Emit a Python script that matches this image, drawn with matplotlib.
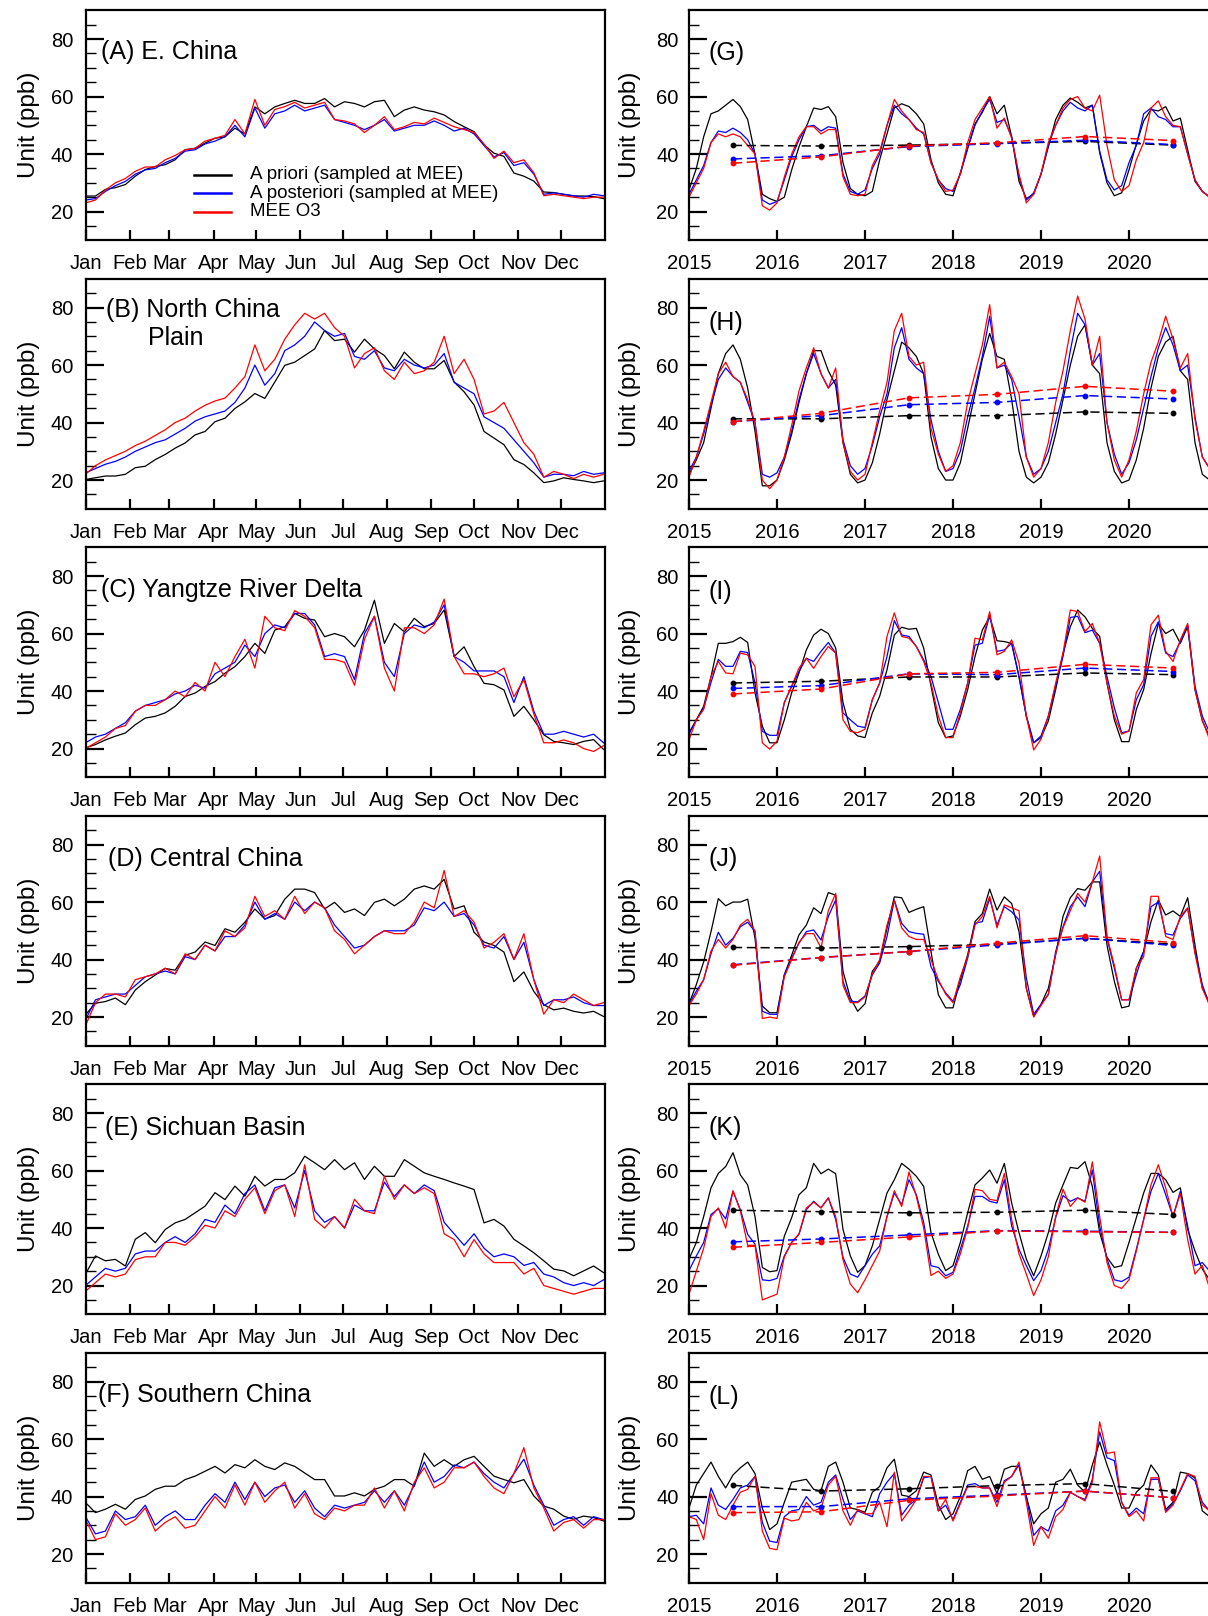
import matplotlib
matplotlib.use('Agg')
import matplotlib.pyplot as plt
from matplotlib.ticker import FixedLocator
from matplotlib.lines import Line2D

plt.rcParams['font.family'] = ['Liberation Sans', 'DejaVu Sans']

# ---------------- data ----------------
# left column: daily curves, sampled every 7 days
week_days = list(range(0, 365, 7))
month_starts = [0, 31, 59, 90, 120, 151, 181, 212, 243, 273, 304, 334]
month_labels = ['Jan', 'Feb', 'Mar', 'Apr', 'May', 'Jun',
                'Jul', 'Aug', 'Sep', 'Oct', 'Nov', 'Dec']

prior_A = [25.4, 25.4, 27.7, 28.3, 29.4, 32.3, 34.6, 35.7, 36.3, 38, 41.5, 42, 43.8, 45.5, 46, 49, 47, 56.4,
           54, 56.4, 57.6, 58.7, 57.6, 57.6, 59.3, 56.4, 58.2, 57.6, 56.4, 58.2, 58.7, 53, 55.3, 56.4, 55.3,
           54.7, 53.6, 51.3, 49.5, 47.8, 43.2, 40.3, 39.2, 33.4, 32.3, 30.6, 26.8, 26.6, 26, 25.4, 25.4, 25.2, 24.5]
post_A = [24, 24.5, 27, 29, 30.5, 33, 34.5, 35, 37, 38.5, 41, 41.5, 43.5, 44.5, 46, 50, 46, 56, 49, 54, 55,
          57, 55, 56, 57, 52, 51, 50, 48.5, 50, 52, 48, 49, 50, 50, 51.5, 50, 48, 49, 47, 43, 39, 40.5, 36, 37,
          33, 26, 26.5, 26, 25.5, 25, 26, 25.5]
mee_A = [23, 24, 27.5, 30, 31.5, 34, 35.5, 35.5, 38, 39.5, 41.5, 42, 44.5, 45.5, 46.5, 52, 47, 59, 50, 55.5,
         56.5, 58, 56, 57, 58, 52, 51.5, 50.5, 47.5, 50, 53, 48.5, 49.5, 51, 50.5, 52.5, 51, 49.5, 48.5, 47.5,
         43.5, 38.5, 41, 37, 38, 33.5, 25.5, 26, 25.5, 25, 24.5, 25, 25]

prior_B = [20.2, 20.8, 21.4, 21.4, 22, 24.3, 24.8, 27.1, 28.9, 31.1, 32.9, 35.7, 36.9, 40.3, 41.5, 44.9, 47.2,
           50.1, 48.4, 54.1, 59.9, 61, 63.3, 65.6, 72, 68.5, 69, 64.5, 69, 65.6, 63.3, 58.7, 64.5, 61, 58.7,
           58.7, 61.6, 54.1, 50.7, 46.1, 36.9, 34.6, 32.3, 27.1, 25.4, 22.5, 19.1, 19.7, 20.8, 20.2, 19.7, 19.1, 19.7]
post_B = [22.5, 24, 25.5, 26.5, 28, 30, 31.5, 33, 34, 36, 38, 40.5, 42, 43, 44, 47, 52, 60, 53, 57, 65, 67,
          70, 75, 72, 70, 71, 63, 62, 65, 59, 58, 62, 60, 59, 60, 64, 54, 52, 50, 42, 40, 38, 34, 30, 26, 21,
          22, 22, 21.5, 23, 22, 22.5]
mee_B = [22, 25, 27, 28.5, 30, 32, 33.5, 35.5, 37.5, 40, 41.5, 44, 46, 47.5, 48.5, 52, 56, 67, 58, 62, 69, 74,
         78, 76, 78, 73, 70, 59, 64, 66, 58, 55, 61, 57, 58, 61, 70, 57, 62, 55, 43, 44, 47, 40, 33, 29, 21, 23,
         22, 20.5, 22, 21, 22]

prior_C = [20.2, 21.4, 23, 24.3, 25.4, 28.3, 30.6, 31.2, 32.4, 34.7, 38.1, 39.3, 41.6, 43.3, 46.2, 48.5, 52,
           56.6, 53.1, 61.2, 62.4, 67, 65.3, 64.7, 58.9, 60, 58.9, 55.4, 61.2, 71.6, 56.6, 63.5, 60.6, 65.3,
           62.4, 63.5, 68.2, 52, 55.4, 48.5, 42.7, 42.2, 40.4, 31.2, 34.7, 30, 24.8, 22.5, 22, 21.4, 22.5, 23.1, 19.7]
post_C = [22, 24, 25, 27, 29, 33, 35, 36, 37, 39, 40, 42, 41, 46, 48, 50, 56, 52, 60, 63, 62, 67, 67, 63, 52,
          53, 52, 44, 60, 66, 50, 45, 60, 63, 62, 64, 70, 52, 50, 47, 47, 47, 45, 36, 45, 33, 25, 25, 26, 25,
          24, 25, 22]
mee_C = [20, 22, 24, 27, 28, 33, 35, 35, 37, 40, 38, 43, 40, 50, 45, 52, 58, 48, 66, 62, 61, 68, 66, 62, 51,
         51, 50, 42, 58, 66, 48, 40, 62, 62, 60, 63, 72, 52, 46, 46, 45, 46, 48, 38, 44, 32, 22, 22, 23, 22, 20,
         19, 21]

prior_D = [20.8, 24.8, 25.4, 26.6, 24.3, 29.4, 32.3, 34.6, 36.9, 36.3, 41.5, 42.6, 46.1, 44.9, 50.7, 49.5,
           53, 57.6, 54.1, 55.3, 61, 64.5, 64.5, 63.3, 57.6, 59.9, 56.4, 57.6, 55.3, 59.9, 61, 58.7, 61, 64.5,
           65.6, 64.5, 67.9, 57.6, 58.7, 49.5, 46.1, 44.9, 42.6, 32.3, 35.7, 28.9, 24.3, 22.5, 23.1, 22, 21.4, 22, 20.2]
post_D = [19, 26, 27, 28, 28, 31, 34, 35, 36, 35, 41, 40, 45, 43, 48, 48, 52, 60, 54, 56, 54, 60, 57, 60, 58,
          52, 48, 44, 45, 48, 50, 50, 50, 52, 58, 57, 60, 55, 56, 52, 45, 44, 48, 40, 46, 33, 24, 26, 26, 27,
          25, 24, 24]
mee_D = [17, 25, 28, 28, 27, 33, 34, 35, 37, 35, 42, 40, 45, 43, 50, 48, 51, 62, 55, 57, 54, 62, 56, 60, 58,
         50, 47, 42, 45, 48, 50, 49, 49, 53, 60, 58, 71, 55, 57, 53, 44, 46, 49, 40, 49, 33, 21, 26, 25, 28, 26,
         24, 25]

prior_E = [24, 30.3, 28.6, 29.1, 26.8, 36.1, 38.4, 34.9, 39.5, 41.8, 43, 45.3, 47.6, 52.3, 49.9, 54.6, 51.1,
           58, 54.6, 56.9, 56.9, 59.2, 65, 62.7, 60.3, 63.8, 60.3, 62.7, 56.9, 61.5, 58, 58, 63.8, 61.5, 59.2,
           58, 56.9, 55.7, 54.6, 53.4, 41.8, 43, 40.7, 36.1, 33.8, 31.4, 28.6, 25.7, 25.1, 23.4, 25.1, 26.8, 24.5]
post_E = [20, 23, 26, 25, 26, 31, 32, 32, 35, 37, 35, 38, 43, 42, 48, 45, 52, 55, 46, 54, 55, 47, 60, 46, 42,
          44, 40, 48, 46, 46, 56, 51, 55, 52, 55, 53, 42, 38, 34, 38, 33, 30, 31, 30, 27, 28, 24, 23, 21, 20,
          21, 20, 22]
mee_E = [18, 21, 24, 23, 24, 29, 30, 30, 35, 35, 34, 37, 41, 40, 46, 44, 50, 54, 45, 53, 55, 44, 62, 43, 40,
         44, 40, 50, 46, 45, 58, 50, 55, 52, 54, 52, 38, 36, 30, 36, 31, 28, 28, 28, 24, 26, 20, 19, 18, 17, 18,
         19, 19]

prior_F = [37.9, 34.4, 35.6, 37.3, 35.6, 39, 40.2, 42.5, 43.6, 43.6, 45.9, 47.1, 48.8, 50.5, 48.2, 51.1, 50,
           52.8, 50.5, 49.4, 51.7, 50.5, 48.2, 45.9, 45.9, 40.2, 40.2, 41.3, 40.2, 42.5, 43.6, 45.9, 45.9, 43.6,
           55.1, 50.5, 52.8, 50.5, 52.8, 54, 50.5, 47.1, 45.9, 44.8, 45.9, 40.2, 36.7, 35.6, 33.2, 32.1, 33.2, 32.7, 31.5]
post_F = [33, 27, 28, 35, 32, 33, 37, 30, 33, 35, 32, 32, 37, 41, 38, 45, 39, 45, 40, 43, 44, 38, 42, 36, 33,
          37, 36, 37, 38, 42, 38, 42, 37, 44, 52, 45, 47, 51, 50, 52, 48, 45, 43, 48, 53, 44, 37, 30, 32, 33,
          30, 33, 32]
mee_F = [32, 25, 26, 34, 30, 32, 36, 28, 31, 33, 29, 30, 35, 40, 36, 44, 37, 45, 38, 42, 45, 36, 41, 34, 32,
         36, 35, 37, 37, 43, 36, 42, 35, 45, 50, 43, 45, 50, 50, 52, 47, 43, 41, 48, 57, 43, 36, 28, 31, 32, 29,
         32, 32]

# right column: monthly means 2015-2020 and annual means
years = [2015, 2016, 2017, 2018, 2019, 2020]
year_mid = [2015.5, 2016.5, 2017.5, 2018.5, 2019.5, 2020.5]
month_pos = [2015 + m / 12 for m in range(72)]

prior_G = [27.5, 35, 46, 54, 55, 57, 59, 56.5, 52, 40, 26, 24.5,
           23.5, 25, 34.5, 42.5, 49.5, 56, 55.5, 56.5, 53, 37, 28, 26,
           25.5, 27, 38, 47, 56, 57.5, 56.5, 54, 50.5, 38, 30, 26,
           25.5, 33.5, 42, 50.5, 54.5, 60, 54, 57, 46, 30.5, 24.5, 26,
           33, 42.5, 52, 57, 59.5, 58, 56, 57, 40.5, 30, 25.5, 26.5,
           34.5, 43.5, 51.5, 55.5, 55, 56.5, 51.5, 52.5, 41.5, 30.5, 27, 25]
post_G = [26, 31, 36, 44, 48, 47.5, 49, 47.5, 45, 40, 24, 22.5,
          23.5, 31, 39, 45, 49.5, 50, 48, 49.5, 49, 33, 27, 26,
          27.5, 35, 40, 50, 57, 54, 52, 49, 47, 37, 31, 28,
          27, 33, 42, 50, 55, 59, 51, 52, 46, 32, 24, 26.5,
          33, 43, 50, 55, 58, 56, 55, 57, 41, 31, 27.5, 29,
          37, 43, 54, 56, 53, 52, 49.5, 49.5, 40, 31, 27, 25]
mee_G = [25, 30, 35, 44, 47, 46, 47, 46, 43, 40, 22, 20.5,
         23, 32, 40, 46, 49.5, 49.5, 47, 48.5, 48.5, 32, 26, 25.5,
         26, 36, 41, 50, 59, 55, 52, 48.5, 47.5, 37, 31, 27,
         27.5, 33, 44, 52, 56, 60, 49, 52.5, 45.5, 33, 23, 26,
         33, 44, 50, 56, 59, 60, 56, 55, 60.5, 43, 31, 27,
         29, 38, 44, 56, 58.5, 53, 50, 49.5, 40, 31, 27, 25]

prior_H = [22, 27, 33, 45, 57, 64, 67, 62, 52, 37, 18, 18,
           20, 27, 36, 47, 57, 65, 65, 58, 53, 33, 22, 19,
           20, 26, 36, 48, 58, 68, 66, 63, 57, 35, 24, 20,
           20, 26, 38, 50, 62, 71, 63, 62, 48, 30, 21, 19,
           21, 26, 36, 48, 60, 70, 74, 60, 57, 33, 23, 19,
           20, 27, 38, 52, 63, 68, 70, 58, 55, 33, 22, 20]
post_H = [23, 28, 36, 46, 55, 59, 56, 54, 47, 40, 22, 21,
          22.5, 28, 37, 48, 57, 64, 57, 52, 55, 34, 25, 22,
          24, 32, 42, 50, 66, 73, 62, 59, 57, 41, 30, 23,
          24, 30, 42, 52, 63, 77, 59, 60, 55, 42, 28, 22,
          24, 30, 40, 50, 65, 78, 74, 60, 64, 40, 29, 22,
          26, 34, 45, 56, 66, 73, 67, 58, 60, 42, 28, 24]
mee_H = [21, 28, 37, 47, 57, 61, 56, 54, 48, 40, 20, 17,
         20, 28, 39, 51, 59, 66, 57, 52, 59, 33, 23, 20,
         22, 33, 44, 54, 72, 78, 63, 60, 61, 38, 29, 23,
         25, 33, 47, 57, 67, 81, 59, 61, 56, 50, 28, 21,
         24, 33, 47, 58, 72, 84, 76, 60, 70, 40, 27, 21,
         27, 37, 50, 61, 68, 77, 69, 59, 64, 41, 28, 24]

prior_I = [25.5, 30, 34.7, 45, 56.6, 56.6, 57.2, 58.7, 56.9, 39.4, 27.8, 22,
           22, 30, 39.4, 46.3, 54.3, 59.5, 61.5, 60, 55, 36, 26.7, 24.4,
           23.8, 32.4, 38.2, 47.4, 59.5, 62.2, 61.5, 61.8, 55, 41.7, 29, 23.8,
           24.4, 31.3, 40.5, 52, 61.2, 65.8, 57.5, 57.2, 56.6, 45, 31.3, 22,
           23.8, 29.6, 40.5, 53, 62.4, 68.2, 65.8, 61.8, 59, 42.8, 30, 22.4,
           22.4, 33.6, 40.5, 53, 63.5, 60, 61.5, 56.6, 62.4, 40.5, 29.6, 24]
post_I = [25, 30, 34, 43, 51, 48.6, 48.6, 53.8, 53.4, 42.8, 26, 24.6,
          24.6, 36, 41.7, 46.8, 51.4, 50.3, 53.8, 56.9, 53.2, 32.4, 30, 27.8,
          27.3, 37, 42.8, 52, 64.5, 59.5, 59, 55.5, 50.9, 45, 36, 26.7,
          26.7, 33.6, 42.8, 56, 56.6, 66.4, 53.8, 54.3, 56.6, 45, 31.3, 22,
          24.4, 31.3, 41.7, 52, 65.6, 66, 60.3, 61.2, 56.6, 45, 34.2, 25.5,
          26.1, 37, 42.2, 59, 64.1, 53.2, 52, 57.2, 63, 41.7, 31.3, 25.5]
mee_I = [23, 30, 33.6, 45, 50.3, 46.3, 46, 53.2, 52.6, 48.6, 22, 19.8,
         22.6, 36, 41.7, 48, 51.4, 47.9, 52, 55.5, 53.2, 30, 26, 25.5,
         26.7, 37, 42.8, 59, 67.2, 59, 58.4, 55.5, 50.3, 42.8, 31.3, 23.8,
         23.8, 32.4, 42.8, 58.4, 57.8, 67.6, 52.6, 53.8, 57.8, 49.7, 31.3, 19.5,
         23.2, 31.3, 42.8, 53.2, 68.2, 67.6, 60.7, 63.5, 56.6, 42.8, 31.3, 25,
         26.1, 39.4, 44, 63, 66.4, 53.8, 50.3, 57.8, 63.5, 40.5, 30, 23]

prior_J = [24.6, 31.3, 39.2, 49.7, 61.2, 58.7, 60, 60, 61, 47.4, 23.8, 21.5,
           21.5, 34.7, 41.5, 48.6, 52, 58, 56, 63.3, 62.4, 35.9, 26.7, 22,
           24.6, 35.9, 39.4, 50.9, 61.8, 61.5, 56.4, 57.5, 58.4, 42.8, 27.8, 23.2,
           23.2, 33, 41.7, 53.2, 56, 64.5, 57.2, 61.8, 59.5, 49.7, 30, 20.3,
           24.4, 30, 41.7, 55, 61.5, 64.7, 64.1, 67, 67, 45, 32.4, 23.2,
           23.8, 37, 42.8, 53.2, 60.7, 55.5, 56.9, 55, 61.5, 45, 30, 25]
post_J = [24.5, 29, 33, 42, 49.5, 45, 47.4, 51.4, 53, 49.7, 22, 21,
          20.9, 34.7, 40.5, 45.7, 49.7, 50.3, 46.8, 55, 60.7, 32.4, 25.5, 25.3,
          27.3, 34.7, 38.8, 48, 60.7, 52.6, 49.7, 49.1, 48.8, 37.5, 32.4, 28.4,
          25.5, 31.3, 40.5, 52.6, 53.2, 61.2, 52, 58.4, 56.6, 53.8, 33.6, 21,
          24.4, 27.8, 42.8, 51.4, 58.4, 61.8, 58.4, 67, 70.7, 47.4, 37, 26,
          26, 34.7, 42.8, 58.4, 60, 49, 48.5, 54.3, 57.8, 42.8, 31.3, 24]
mee_J = [24, 28, 33, 43, 47, 44, 47, 52, 54, 50, 19.5, 20,
         19.5, 34, 40, 46, 49, 49, 44, 57, 63, 31, 25, 25,
         27, 35, 40, 52, 60.5, 51, 48, 47, 47, 40, 33, 28,
         25, 34, 41, 52, 55, 62, 51, 59, 58, 57, 30, 20,
         24, 28, 42, 51, 57, 63, 60, 67, 76, 48, 38, 26,
         26, 37, 41, 62, 62, 48, 47, 55, 58, 42, 30, 24]

prior_K = [29.2, 35, 44, 54, 59, 61.4, 66.2, 58.5, 55, 44, 26.3, 24.8,
           25.2, 37.2, 43.6, 51.6, 54, 62.5, 58.9, 60.5, 58.9, 39.5, 30.3, 24.6,
           26.9, 33.8, 43, 52.2, 56.8, 62.5, 60.5, 58, 54.5, 38.4, 30.9, 25.2,
           26.9, 35, 45.3, 55, 57.4, 60.2, 55.6, 62.5, 48.7, 38.4, 29.2, 23.4,
           30.3, 38.4, 48.7, 55, 61.1, 60.7, 63.1, 54.5, 38.4, 29.8, 26.3, 26.9,
           35, 43.6, 52.2, 59, 59, 56.8, 52.4, 54, 39.5, 32, 25.7, 22]
post_K = [25.2, 30.3, 35, 44.7, 46.7, 43.2, 52.8, 46.4, 37.8, 34.4, 22, 21.7,
          22.5, 30.3, 35, 37.8, 46.4, 49.3, 47, 50.5, 43, 29.8, 24, 22.9,
          26.9, 30.9, 33.8, 44, 52.2, 48.2, 56.8, 51.6, 42, 26.9, 26.3, 23.4,
          24.6, 32.6, 40.7, 51, 51, 49.3, 48.7, 56.8, 40.7, 32.6, 26.9, 21.7,
          25.2, 32.6, 43.6, 51.3, 49.3, 50.5, 49.3, 60.2, 40.7, 29.2, 22, 21.4,
          22.9, 32.6, 43, 52.8, 59, 51.6, 44, 52.8, 40.7, 26.9, 28, 25]
mee_K = [17, 25, 33, 44, 47, 40, 53, 46, 34, 34, 15, 16,
         17, 30, 35, 38, 47, 49, 47, 50.5, 44, 29, 20.5, 17.5,
         22, 27, 32, 44, 53, 47.5, 59.5, 51, 40, 23.5, 25, 22.5,
         24, 31, 40, 53.5, 53, 50, 49.5, 59, 43, 31, 24, 16.5,
         22, 30, 44, 53.5, 47.5, 50.5, 49, 63, 44, 28, 20, 19,
         22, 32, 43, 55, 62, 54, 44, 52, 36, 24, 27, 19]

prior_L = [36, 44, 48, 52, 47, 43, 47.5, 50, 52, 48, 36, 28.5,
           30.5, 38, 45, 45.5, 46, 42.5, 42, 50.5, 52, 45, 36, 35.5,
           34.5, 41.5, 43.5, 50, 53, 40.5, 40, 42, 48.5, 47.5, 37, 32,
           34, 40, 49, 50.5, 46, 47, 41, 49.5, 50.5, 50.5, 40, 30.5,
           34, 36, 45, 46, 49.5, 44, 41.5, 51, 59, 51, 44, 36,
           36, 41.5, 44, 51, 47.5, 35.5, 38, 48.5, 48, 46.5, 35, 33]
post_L = [33, 33.5, 30.5, 43, 37, 35.5, 39, 43, 44, 47, 31, 24.5,
          24, 33, 35, 35.5, 40, 37, 38, 45, 47.5, 39, 32, 35,
          34, 33, 41, 45, 48, 33.5, 37, 39, 46.5, 47, 35, 37,
          32, 38, 44, 44.5, 43, 43, 38, 45.5, 47, 51, 40, 26.5,
          29.5, 28, 35, 37, 41.5, 40, 39, 46, 62.5, 53.5, 52.5, 38,
          33.5, 36, 34, 46, 46, 35, 37.5, 42, 47.5, 45.5, 38, 35]
mee_L = [33, 32, 25, 41, 33.5, 32, 37, 41.5, 42.5, 47, 28, 22,
         21.5, 32.5, 31.5, 32, 38, 35, 36, 44, 47, 35, 30, 35.5,
         34, 34, 38, 29.5, 48.5, 31.5, 35, 39, 47, 47, 35, 39,
         31.5, 37.5, 43.5, 43.5, 43, 43, 36.5, 45, 47, 52, 38, 23,
         29.5, 25.5, 33, 35.5, 41.5, 40, 38.5, 45, 66, 55, 55.5, 38,
         33, 35, 31.5, 46.5, 46.5, 34.5, 37, 42.5, 48, 47, 37, 35]

prior_yr_G = [43, 42.8, 43.1, 43.7, 44.4, 43.1]
post_yr_G = [38.3, 39.4, 42.6, 43.6, 44.8, 43.3]
mee_yr_G = [36.8, 39.0, 42.8, 43.9, 46.1, 44.7]
prior_yr_H = [41.3, 41.3, 42.4, 42.4, 43.7, 43.2]
post_yr_H = [40.3, 42.4, 46.2, 47, 49.4, 48.2]
mee_yr_H = [40.3, 43.2, 48.6, 49.8, 52.6, 50.9]
prior_yr_I = [42.8, 43.4, 44.9, 44.9, 46.3, 45.7]
post_yr_I = [40.9, 41.9, 46, 45.7, 48, 46.8]
mee_yr_I = [39, 40.7, 46, 46.5, 49.3, 48]
prior_yr_J = [44.2, 44, 44.5, 45.3, 47.4, 45.3]
post_yr_J = [38.2, 40.7, 42.8, 45.1, 47.4, 44.9]
mee_yr_J = [38, 40.7, 42.8, 45.7, 48.3, 45.9]
prior_yr_K = [46.2, 45.7, 45.3, 45.5, 46.2, 44.7]
post_yr_K = [35.2, 36.2, 37.6, 39.1, 38.9, 38.5]
mee_yr_K = [33.3, 35, 36.9, 39, 38.7, 38.5]
prior_yr_L = [43.9, 41.9, 42.7, 43.8, 44.5, 41.8]
post_yr_L = [36.5, 36.5, 39.2, 40.5, 41.9, 39.6]
mee_yr_L = [34.4, 34.7, 38.7, 40.2, 41.9, 39.6]

left_panels = [
    ('(A) E. China', None, prior_A, post_A, mee_A),
    ('(B) North China', 'Plain', prior_B, post_B, mee_B),
    ('(C) Yangtze River Delta', None, prior_C, post_C, mee_C),
    ('(D) Central China', None, prior_D, post_D, mee_D),
    ('(E) Sichuan Basin', None, prior_E, post_E, mee_E),
    ('(F) Southern China', None, prior_F, post_F, mee_F),
]
right_panels = [
    ('(G)', prior_G, post_G, mee_G, prior_yr_G, post_yr_G, mee_yr_G),
    ('(H)', prior_H, post_H, mee_H, prior_yr_H, post_yr_H, mee_yr_H),
    ('(I)', prior_I, post_I, mee_I, prior_yr_I, post_yr_I, mee_yr_I),
    ('(J)', prior_J, post_J, mee_J, prior_yr_J, post_yr_J, mee_yr_J),
    ('(K)', prior_K, post_K, mee_K, prior_yr_K, post_yr_K, mee_yr_K),
    ('(L)', prior_L, post_L, mee_L, prior_yr_L, post_yr_L, mee_yr_L),
]
legend_labels = ['A priori (sampled at MEE)', 'A posteriori (sampled at MEE)', 'MEE O3']
colors = ['black', '#0000ff', '#ff0000']

# ---------------- layout (pixel based) ----------------
W, H = 1208, 1616
fig = plt.figure(figsize=(W / 100, H / 100), dpi=100)

row_tops = [10.3, 278.8, 547.3, 815.8, 1084.3, 1352.8]
panel_h = 230
left_x, left_w = 85.5, 519.5
right_x, right_w = 689, 528   # 2015..2021, right edge falls off the figure

left_title_dx = [15.5, 20.5, 15.5, 22, 19.5, 12.5]
left_title_dy = [42, 31.5, 43, 43, 43.5, 42.5]
right_title_dy = [43, 44, 45, 43, 43.5, 44]


def make_axes(x, top, w):
    return fig.add_axes([x / W, 1 - (top + panel_h) / H, w / W, panel_h / H])


def style_axes(ax, ylabel_x, ypad):
    ax.set_ylim(10, 90)
    ax.yaxis.set_major_locator(FixedLocator([20, 40, 60, 80]))
    ax.yaxis.set_minor_locator(FixedLocator([15, 25, 30, 35, 45, 50, 55, 65, 70, 75, 85]))
    ax.tick_params(axis='y', which='major', direction='in', length=13, width=1.6,
                   labelsize=14.5, pad=ypad, right=False)
    ax.tick_params(axis='y', which='minor', direction='in', length=7, width=1.0, right=False)
    ax.tick_params(axis='x', which='major', direction='in', length=7, width=1.6,
                   labelsize=14.5, pad=10, top=False)
    ax.tick_params(axis='x', which='minor', bottom=False, top=False)
    for sp in ax.spines.values():
        sp.set_linewidth(1.6)
    ax.set_ylabel('Unit (ppb)', fontsize=17.5)
    ax.yaxis.set_label_coords(ylabel_x, 0.5)


for i, (title, title2, pri, post, mee) in enumerate(left_panels):
    ax = make_axes(left_x, row_tops[i], left_w)
    for series, c in zip([pri, post, mee], colors):
        ax.plot(week_days, series, color=c, lw=0.9)
    ax.set_xlim(0, 365)
    ax.set_xticks(month_starts)
    ax.set_xticklabels(month_labels)
    style_axes(ax, -0.088, 9)
    ax.annotate(title, xy=(0, 1), xycoords='axes fraction',
                xytext=(left_title_dx[i], -left_title_dy[i]), textcoords='offset pixels',
                fontsize=18, va='center', ha='left')
    if title2:
        ax.annotate(title2, xy=(0, 1), xycoords='axes fraction',
                    xytext=(62, -59), textcoords='offset pixels',
                    fontsize=18, va='center', ha='left')
    if i == 0:
        for k, (lab, c) in enumerate(zip(legend_labels, colors)):
            yk = 0.285 - 0.08 * k
            ax.add_line(Line2D([0.209, 0.280], [yk, yk], color=c, lw=1.8,
                               transform=ax.transAxes))
            ax.text(0.317, yk, lab, transform=ax.transAxes, fontsize=13.5, va='center', ha='left')

for i, (title, pri, post, mee, pri_y, post_y, mee_y) in enumerate(right_panels):
    ax = make_axes(right_x, row_tops[i], right_w)
    for series, c in zip([pri, post, mee], colors):
        ax.plot(month_pos, series, color=c, lw=0.9)
    for series, c in zip([pri_y, post_y, mee_y], colors):
        ax.plot(year_mid, series, color=c, lw=1.1, ls=(0, (6, 3)),
                marker='o', ms=3.2, mec=c, mfc=c)
    ax.set_xlim(2015, 2021)
    ax.set_xticks(years)
    ax.set_xticklabels([str(y) for y in years])
    style_axes(ax, -0.091, 7.5)
    ax.annotate(title, xy=(0, 1), xycoords='axes fraction',
                xytext=(20, -right_title_dy[i]), textcoords='offset pixels',
                fontsize=18, va='center', ha='left')

fig.savefig('out.png', dpi=100)
